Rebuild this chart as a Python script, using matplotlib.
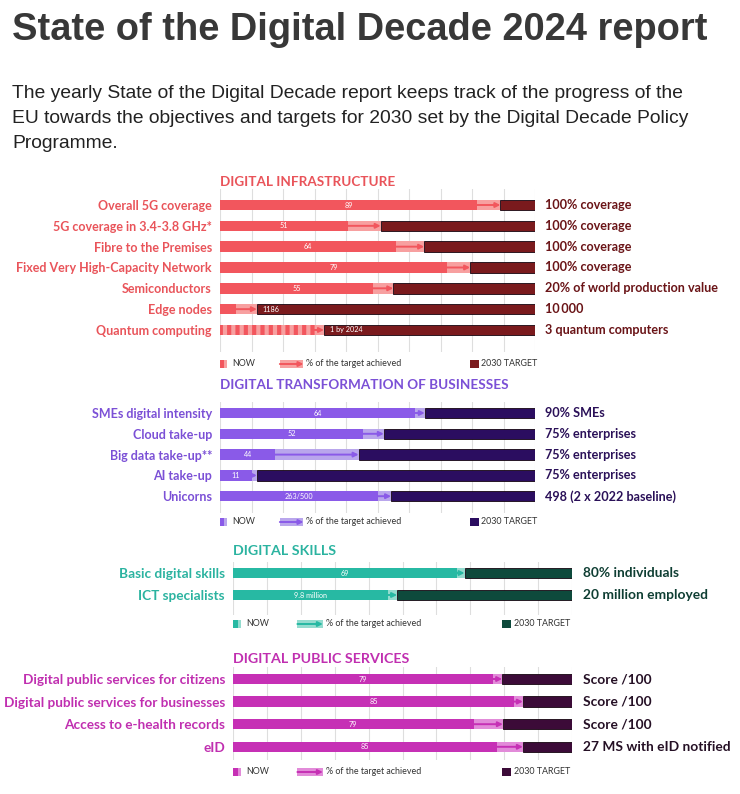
import numpy as np
import matplotlib
matplotlib.use("Agg")
import matplotlib.pyplot as plt

plt.rcParams['font.family'] = ['Lato', 'DejaVu Sans']
plt.rcParams['hatch.linewidth'] = 3.0

# ---- data (values on a 0-100 scale of the 2030 target) ----
infra_labels = ['Overall 5G coverage', '5G coverage in 3.4-3.8 GHz*', 'Fibre to the Premises',
                'Fixed Very High-Capacity Network', 'Semiconductors', 'Edge nodes', 'Quantum computing']
infra_prev = [81.6, 40.6, 56, 72, 48.6, 5, 30]
infra_now = [89, 51, 64.8, 79.4, 55, 11.7, 33]
infra_text = ['89', '51', '64', '79', '55', '1186', '1 by 2024']
infra_target = ['100% coverage', '100% coverage', '100% coverage', '100% coverage',
                '20% of world production value', '10\u2009000', '3 quantum computers']

biz_labels = ['SMEs digital intensity', 'Cloud take-up', 'Big data take-up**', 'AI take-up', 'Unicorns']
biz_prev = [62, 45.4, 17.5, 10, 50]
biz_now = [65, 52, 44, 11.7, 54.3]
biz_text = ['64', '52', '44', '11', '263/500']
biz_target = ['90% SMEs', '75% enterprises', '75% enterprises', '75% enterprises', '498 (2 x 2022 baseline)']

skills_labels = ['Basic digital skills', 'ICT specialists']
skills_prev = [66, 45.7]
skills_now = [68.3, 48.4]
skills_text = ['69', '9.8 million']
skills_target = ['80% individuals', '20 million employed']

pub_labels = ['Digital public services for citizens', 'Digital public services for businesses',
              'Access to e-health records', 'eID']
pub_prev = [76.7, 83, 71, 78]
pub_now = [79.4, 85.5, 79.6, 85.5]
pub_text = ['79', '85', '79', '85']
pub_target = ['Score /100', 'Score /100', 'Score /100', '27 MS with eID notified']

W, H = 740, 794
fig = plt.figure(figsize=(W / 100, H / 100), dpi=100)
fig.patch.set_facecolor('white')

fig.text(12 / W, 1 - 40 / H, 'State of the Digital Decade 2024 report', family='Liberation Sans',
         weight='bold', fontsize=27.4, color='#383838', va='baseline')
para = ['The yearly State of the Digital Decade report keeps track of the progress of the',
        'EU towards the objectives and targets for 2030 set by the Digital Decade Policy',
        'Programme.']
for k, line in enumerate(para):
    fig.text(12 / W, 1 - (98 + 25 * k) / H, line, family='Liberation Sans', fontsize=13.9,
             color='#222222', va='baseline')


def panel(x0, x1, y_first, dy, g_top, g_bot, head_y, leg_y, title, labels, prev, now, text, target,
          c_mid, c_pale, c_dark, c_lab, c_tgt, fs=9.0, fs_head=9.7, striped=None):
    ax = fig.add_axes([x0 / W, 1 - g_bot / H, (x1 - x0) / W, (g_bot - g_top) / H])
    ax.set_xlim(0, 100)
    ax.set_ylim((g_bot - y_first) / dy, (g_top - y_first) / dy)
    for s in ax.spines.values():
        s.set_visible(False)
    ax.set_xticks(np.arange(0, 101, 10))
    ax.grid(axis='x', color='#dedede', lw=0.8)
    ax.set_axisbelow(True)
    ax.tick_params(axis='x', length=0, labelbottom=False)
    n = len(labels)
    y = np.arange(n)
    ax.set_yticks(y)
    ax.set_yticklabels(labels, fontsize=fs, weight='bold', color=c_lab)
    ax.tick_params(axis='y', length=0, pad=5.8)
    h = 10.5 / dy
    prev = np.array(prev)
    now = np.array(now)
    ax.barh(y, prev, height=h, color=c_mid, lw=0)
    ax.barh(y, now - prev, left=prev, height=h, color=c_pale, lw=0)
    ax.barh(y, 100 - now, left=now, height=h, color=c_dark, edgecolor='#150510', lw=0.6)
    if striped is not None:
        ax.barh(striped, prev[striped], height=h, color=c_pale, hatch='||', edgecolor=c_mid, lw=0)
    for i in range(n):
        ax.annotate('', xy=(now[i], i), xytext=(prev[i], i),
                    arrowprops=dict(arrowstyle='-|>', color=c_mid, lw=1.4, mutation_scale=7,
                                    shrinkA=0, shrinkB=0))
        if prev[i] < 8 or i == striped:
            ax.text(now[i] + 1.8, i, text[i], color='white', fontsize=5.2, va='center', ha='left')
        else:
            ax.text(prev[i] / 2, i, text[i], color='white', fontsize=5.2, va='center', ha='center')
        ax.text(103.2, i, target[i], color=c_tgt, fontsize=fs + 0.1, weight='bold', va='center',
                ha='left', clip_on=False)
    hy = (head_y - y_first) / dy
    ax.text(0, hy, title, color=c_lab, fontsize=fs_head, weight='bold', va='center', ha='left',
            clip_on=False)
    ly = (leg_y - y_first) / dy
    lh = 8 / dy
    ax.barh(ly, 1.4, height=lh, color=c_mid, lw=0, clip_on=False)
    ax.barh(ly, 0.9, left=1.4, height=lh, color=c_pale, lw=0, clip_on=False)
    ax.text(3.8, ly, 'NOW', fontsize=6.4, color='#333333', va='center', ha='left', clip_on=False)
    ax.barh(ly, 7.5, left=19, height=lh, color=c_pale, lw=0, clip_on=False)
    ax.annotate('', xy=(26.5, ly), xytext=(19, ly), annotation_clip=False,
                arrowprops=dict(arrowstyle='-|>', color=c_mid, lw=1.4, mutation_scale=7,
                                shrinkA=0, shrinkB=0))
    ax.text(27.3, ly, '% of the target achieved', fontsize=6.4, color='#333333', va='center',
            ha='left', clip_on=False)
    ax.barh(ly, 2.8, left=79.3, height=lh, color=c_dark, lw=0, clip_on=False)
    ax.text(83, ly, '2030 TARGET', fontsize=6.4, color='#333333', va='center', ha='left',
            clip_on=False)
    return ax


panel(220, 535, 205, 20.83, 189, 352, 182, 364, 'DIGITAL INFRASTRUCTURE',
      infra_labels, infra_prev, infra_now, infra_text, infra_target,
      '#f2565d', '#f7a0a0', '#7a1a1d', '#e9545a', '#6a1417', striped=6)
panel(220, 535, 413, 20.8, 402, 513, 385, 522, 'DIGITAL TRANSFORMATION OF BUSINESSES',
      biz_labels, biz_prev, biz_now, biz_text, biz_target,
      '#8a5ae8', '#b9a6ec', '#2b0d60', '#7b50d6', '#2a1058')
panel(233, 572, 573, 22, 562, 615, 551, 624, 'DIGITAL SKILLS',
      skills_labels, skills_prev, skills_now, skills_text, skills_target,
      '#27b9a3', '#94dccf', '#0e4a3c', '#2bb3a0', '#0f3e33', fs=9.8, fs_head=10.3)
panel(233, 572, 679, 22.6, 667, 760, 659, 772, 'DIGITAL PUBLIC SERVICES',
      pub_labels, pub_prev, pub_now, pub_text, pub_target,
      '#c630b5', '#e28bd9', '#3c0b38', '#c02fb0', '#251025', fs=9.8, fs_head=10.3)

fig.savefig('out.png', dpi=100)
